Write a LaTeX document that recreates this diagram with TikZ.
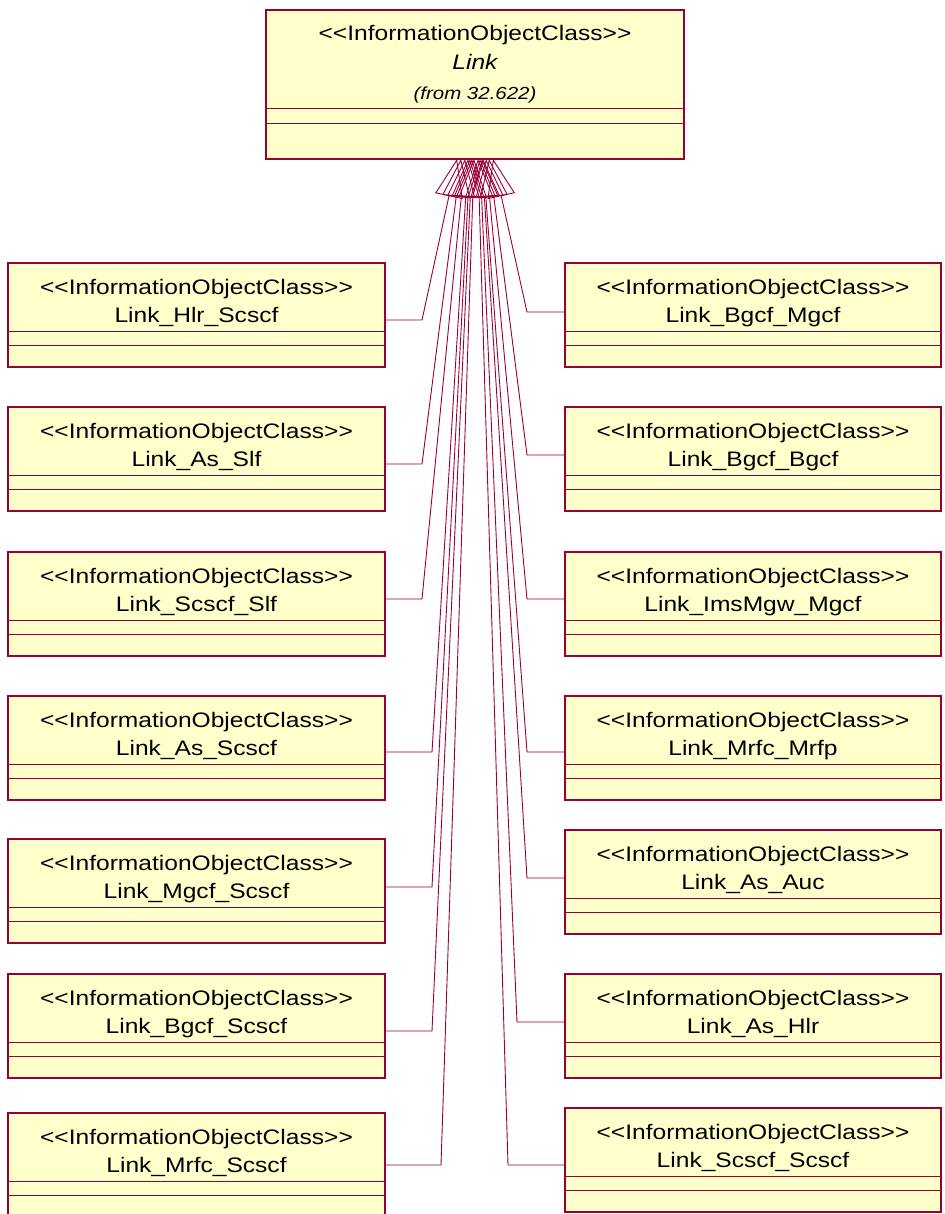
\documentclass[tikz,border=0pt]{standalone}
\usepackage{fontspec}
\setmainfont{Liberation Sans}
\newfontfamily\umlfont[FakeStretch=1.17]{Liberation Sans}
\usetikzlibrary{arrows.meta,calc}
\definecolor{umlred}{RGB}{153,0,51}
\definecolor{umlfill}{RGB}{255,255,204}
\newcommand\ltlt{<\kern0pt<}
\newcommand\gtgt{>\kern0pt>}
\tikzset{
  cls/.style={draw=umlred, fill=umlfill, line width=1.3pt, anchor=north west, inner sep=0pt, outer sep=0pt},
  sepline/.style={draw=umlred, line width=0.8pt},
  lbl/.style={anchor=base, inner sep=0pt, font=\umlfont\fontsize{21}{21}\selectfont},
  smalllbl/.style={anchor=base, inner sep=0pt, font=\umlfont\itshape\fontsize{17.5}{17.5}\selectfont},
  gen/.style={draw=umlred, line width=0.9pt, -{Triangle[open,length=38pt,width=28pt]}},
}
% name, x, y, width, label
\newcommand\umlclass[5]{%
  \node[cls, minimum width=#4pt, minimum height=104pt] (#1) at (#2,#3) {};
  \draw[sepline] ($(#1.north west)+(0,68)$) -- ($(#1.north east)+(0,68)$);
  \draw[sepline] ($(#1.north west)+(0,82)$) -- ($(#1.north east)+(0,82)$);
  \node[lbl] (#1-s) at ($(#1.north)+(0,31.5)$) {\ltlt InformationObjectClass\gtgt};
  \node[lbl] (#1-n) at ($(#1.north)+(0,59.5)$) {#5};
}
% box, side, corner x, corner y, tip x
\newcommand\umllink[5]{%
  \coordinate (#1-c) at (#3,#4);
  \coordinate (#1-tx) at (#5,0);
  \coordinate (#1-t) at (top.south -| #1-tx);
  \draw[gen] (#1.#2 |- #1-c) -- (#1-c) -- (#1-t);
}
\begin{document}
\begin{tikzpicture}[x=1pt,y=-1pt]
\useasboundingbox (0,0) rectangle (944,1214);
% top class
\node[cls, minimum width=418pt, minimum height=149pt] (top) at (266,10) {};
\draw[sepline] ($(top.north west)+(0,98)$) -- ($(top.north east)+(0,98)$);
\draw[sepline] ($(top.north west)+(0,113)$) -- ($(top.north east)+(0,113)$);
\node[lbl] (top-s) at ($(top.north)+(0,31)$) {\ltlt InformationObjectClass\gtgt};
\node[lbl, font=\umlfont\itshape\fontsize{21}{21}\selectfont] (top-n) at ($(top.north)+(0,60)$) {Link};
\node[smalllbl] (top-f) at ($(top.north)+(0,90)$) {(from 32.622)};
% left column
\umlclass{L1}{8}{263}{377}{Link\_Hlr\_Scscf}
\umlclass{L2}{8}{407}{377}{Link\_As\_Slf}
\umlclass{L3}{8}{552}{377}{Link\_Scscf\_Slf}
\umlclass{L4}{8}{696}{377}{Link\_As\_Scscf}
\umlclass{L5}{8}{839}{377}{Link\_Mgcf\_Scscf}
\umlclass{L6}{8}{974}{377}{Link\_Bgcf\_Scscf}
\umlclass{L7}{8}{1113}{377}{Link\_Mrfc\_Scscf}
% right column
\umlclass{R1}{565}{263}{376}{Link\_Bgcf\_Mgcf}
\umlclass{R2}{565}{407}{376}{Link\_Bgcf\_Bgcf}
\umlclass{R3}{565}{552}{376}{Link\_ImsMgw\_Mgcf}
\umlclass{R4}{565}{696}{376}{Link\_Mrfc\_Mrfp}
\umlclass{R5}{565}{830}{376}{Link\_As\_Auc}
\umlclass{R6}{565}{974}{376}{Link\_As\_Hlr}
\umlclass{R7}{565}{1108}{376}{Link\_Scscf\_Scscf}
% generalizations
\umllink{L1}{east}{422}{320}{457}
\umllink{L2}{east}{422}{464}{461}
\umllink{L3}{east}{422}{599}{465}
\umllink{L4}{east}{432}{752}{468}
\umllink{L5}{east}{432}{887}{470}
\umllink{L6}{east}{432}{1031}{472}
\umllink{L7}{east}{441}{1165}{474}
\umllink{R1}{west}{527}{312}{493}
\umllink{R2}{west}{527}{455}{489}
\umllink{R3}{west}{527}{599}{486}
\umllink{R4}{west}{527}{752}{483}
\umllink{R5}{west}{527}{878}{482}
\umllink{R6}{west}{517}{1022}{480}
\umllink{R7}{west}{508}{1165}{478}
\end{tikzpicture}
\end{document}
